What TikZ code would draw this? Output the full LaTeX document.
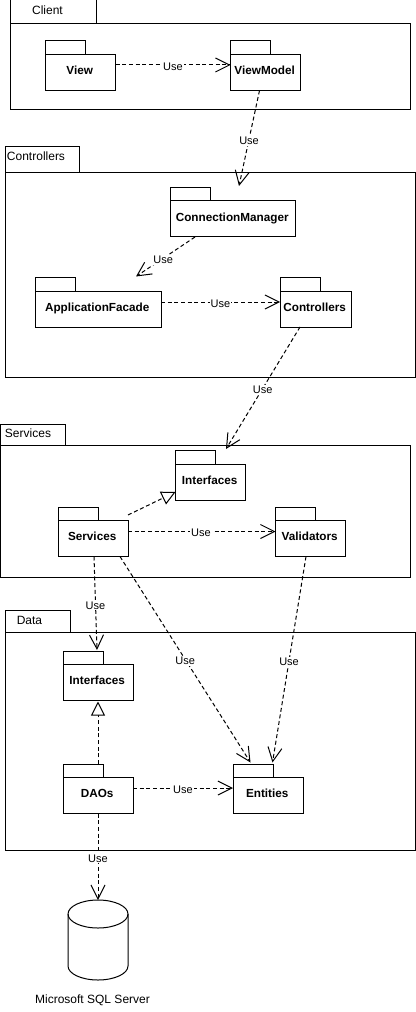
\documentclass[tikz,border=0pt]{standalone}
\usepackage{fontspec}
\setmainfont{Liberation Sans}
\usetikzlibrary{calc,arrows.meta}
\tikzstyle{use arrow} = [line width=0.75pt,dash pattern=on 3pt off 2pt,-{Straight Barb[length=10.5pt,width=10.5pt]}]
\tikzstyle{real arrow} = [line width=0.75pt,dash pattern=on 3pt off 2pt,-{Triangle[open,fill=white,length=10.5pt,width=10.5pt]}]

\begin{document}
\begin{tikzpicture}[x=0.75pt,y=-0.75pt,line width=0.75pt]
    \tikzstyle{box}=[draw=black,fill=white,rectangle,anchor=north west,inner sep=0pt,outer sep=0pt]
    \tikzstyle{plain text}=[font=\fontsize{9pt}{10pt}\selectfont]
    \tikzstyle{pkg body}=[box,font=\fontsize{8.8pt}{10pt}\selectfont\bfseries,text height=8pt,text depth=4.6pt]
    \tikzstyle{use label}=[fill=white,inner sep=0.75pt,yshift=-1pt,font=\fontsize{8.25pt}{9pt}\selectfont,text height=6pt,text depth=0pt]
    \tikzstyle{db arc}=[x radius=22.5pt,y radius=10.5pt]

    \path[fill=white,use as bounding box] (0,0) rectangle (416,1012);

    % Draw the outer groups
    \foreach \name / \x / \y / \w / \h / \tw / \th in {
        client/10.5/24/400/86/86/24,
        controllers/5.5/173/410/204/74/26,
        services/0.5/445.5/410/131.5/65/21.5,
        data/5.5/632/410/218.5/65/21.5}
    {
        \node[box,minimum width=\w*0.75pt,minimum height=\h*0.75pt] (G-\name) at (\x,\y) {};
        \node[box,minimum width=\tw*0.75pt,minimum height=\th*0.75pt,anchor=south west] (GT-\name) at (\x,\y) {};
    }

    % Draw the group titles
    \node[plain text] (L-client) at (47.5,10) {Client};
    \node[plain text] (L-controllers) at (36,156.5) {Controllers};
    \node[plain text] (L-services) at (28,433.5) {Services};
    \node[plain text] (L-data) at (29.5,620) {Data};

    % Draw the packages
    \foreach \name / \x / \y / \w / \txt in {
        view/45.5/54.5/70/View,
        viewmodel/230.5/54.5/70/ViewModel,
        connmgr/170.5/201/125/ConnectionManager,
        appfacade/35/291/126/ApplicationFacade,
        ctrls/280/291/71/Controllers,
        ifaces/175.5/464/70/Interfaces,
        services/58/520.5/70/Services,
        validators/275.5/520.5/70/Validators,
        dalifaces/63/664.5/70/Interfaces,
        daos/63/777.5/70/DAOs,
        entities/233/777.5/70/Entities}
    {
        \node[box,minimum width=40*0.75pt,minimum height=13.5*0.75pt,anchor=south west] (T-\name) at (\x,\y) {};
        \node[pkg body,minimum width=\w*0.75pt,minimum height=36*0.75pt] (P-\name) at (\x,\y) {\txt\kern1.2pt};
    }

    % Draw the database
    \node[inner sep=0pt,outer sep=0pt,minimum width=60*0.75pt,minimum height=80*0.75pt] (db) at (98,940) {};
    \draw[fill=white] ($(db.north west)+(0,14)$) arc[db arc,start angle=180,end angle=0] -- ($(db.south east)+(0,-14)$) arc[db arc,start angle=0,end angle=-180] -- cycle;
    \draw ($(db.north west)+(0,14)$) arc[db arc,start angle=180,end angle=360];
    \node[plain text] (L-db) at (92.5,1000.5) {Microsoft SQL Server};

    % Draw the connectors
    \draw[use arrow] ($(P-view.north east)+(0,10.5)$) -- node[use label,pos=0.5] {Use} ($(P-viewmodel.north west)+(0,10.5)$);
    \draw[use arrow] ($(P-viewmodel.south west)+(29,0)$) -- node[use label,pos=0.51] {Use} ($(P-connmgr.north west)+(68.5,-15)$);
    \draw[use arrow] ($(P-connmgr.south west)+(24.5,0)$) -- node[use label,pos=0.54] {Use} ($(T-appfacade.north west)+(101,-1)$);
    \draw[use arrow] ($(P-appfacade.north east)+(0,11)$) -- node[use label,pos=0.5] {Use} ($(P-ctrls.north west)+(0,11)$);
    \draw[use arrow] ($(P-ctrls.south west)+(20,0)$) -- node[use label,pos=0.505] {Use} ($(P-ifaces.north west)+(50.5,-15)$);
    \draw[real arrow] ($(P-services.north east)+(0,-5.5)$) -- ($(P-ifaces.south west)+(0,-8)$);
    \draw[use arrow] ($(P-services.north east)+(0,11)$) -- node[use label,pos=0.495] {Use} ($(P-validators.north west)+(0,11)$);
    \draw[use arrow] ($(P-services.south west)+(36,0)$) -- node[use label,pos=0.505] {Use} ($(T-dalifaces.north west)+(34,-1)$);
    \draw[use arrow] ($(P-services.south west)+(62,0)$) -- node[use label,pos=0.5] {Use} ($(T-entities.north west)+(17.5,-1.5)$);
    \draw[use arrow] ($(P-validators.south west)+(30.5,0)$) -- node[use label,pos=0.505] {Use} ($(T-entities.north west)+(39.5,-1.5)$);
    \draw[real arrow] ($(T-daos.north west)+(35,0)$) -- ($(P-dalifaces.south west)+(35,1)$);
    \draw[use arrow] ($(P-daos.north east)+(0,10.5)$) -- node[use label,pos=0.5] {Use} ($(P-entities.north west)+(0,10.5)$);
    \draw[use arrow] ($(P-daos.south west)+(35,0)$) -- node[use label,pos=0.5] {Use} (db.north);
\end{tikzpicture}
\end{document}
